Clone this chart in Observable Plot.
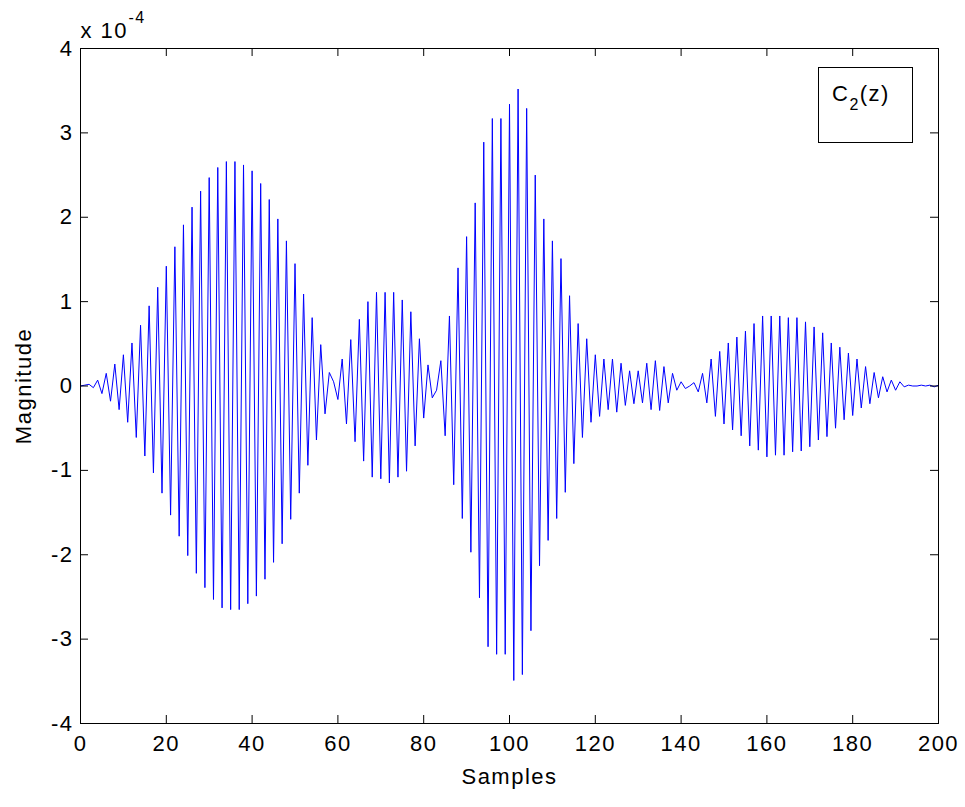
<!DOCTYPE html>
<html>
<head>
<meta charset="utf-8">
<script src="https://cdn.jsdelivr.net/npm/d3@7"></script>
<script src="https://cdn.jsdelivr.net/npm/@observablehq/plot@0.6"></script>
<style>
  html, body { margin: 0; padding: 0; background: #fff; }
  #chart { width: 965px; height: 807px; }
</style>
</head>
<body>
<div id="chart"></div>
<script>
// Magnitude values, in units of 1e-4, one per sample (0..200)
const magnitudeE4 = [
  0.00, 0.01, 0.02, -0.02, 0.07, -0.09, 0.15, -0.18, 0.26, -0.28,
  0.37, -0.43, 0.51, -0.61, 0.72, -0.83, 0.95, -1.03, 1.17, -1.27,
  1.42, -1.53, 1.65, -1.78, 1.91, -2.01, 2.12, -2.22, 2.31, -2.39,
  2.47, -2.53, 2.59, -2.63, 2.66, -2.65, 2.66, -2.65, 2.62, -2.58,
  2.55, -2.49, 2.40, -2.29, 2.21, -2.09, 1.98, -1.87, 1.72, -1.58,
  1.45, -1.27, 1.09, -0.94, 0.81, -0.64, 0.49, -0.33, 0.16, 0.05,
  -0.16, 0.32, -0.45, 0.55, -0.66, 0.79, -0.89, 1.00, -1.08, 1.11,
  -1.10, 1.11, -1.15, 1.11, -1.08, 1.02, -1.01, 0.88, -0.71, 0.56,
  -0.38, 0.25, -0.14, -0.05, 0.30, -0.59, 0.83, -1.17, 1.40, -1.57,
  1.77, -1.97, 2.17, -2.51, 2.89, -3.09, 3.17, -3.18, 3.17, -3.18,
  3.34, -3.49, 3.52, -3.42, 3.29, -2.90, 2.50, -2.13, 1.98, -1.83,
  1.72, -1.57, 1.51, -1.26, 1.07, -0.92, 0.74, -0.61, 0.56, -0.43,
  0.37, -0.36, 0.32, -0.28, 0.32, -0.31, 0.27, -0.23, 0.18, -0.21,
  0.18, -0.20, 0.27, -0.28, 0.30, -0.29, 0.23, -0.20, 0.15, -0.05,
  0.05, -0.03, 0.00, 0.04, -0.07, 0.15, -0.20, 0.32, -0.36, 0.41,
  -0.45, 0.51, -0.52, 0.58, -0.59, 0.65, -0.71, 0.74, -0.76, 0.83,
  -0.84, 0.83, -0.82, 0.83, -0.82, 0.81, -0.78, 0.81, -0.77, 0.76,
  -0.72, 0.70, -0.64, 0.63, -0.60, 0.51, -0.50, 0.46, -0.40, 0.39,
  -0.35, 0.32, -0.26, 0.23, -0.21, 0.16, -0.14, 0.11, -0.07, 0.07,
  -0.05, 0.05, -0.01, 0.01, 0.00, 0.00, 0.01, 0.00, 0.01, -0.01,
  0.01
];
const sampleIndex = magnitudeE4.map((_, i) => i);
const xTicks = [0, 20, 40, 60, 80, 100, 120, 140, 160, 180, 200];
const yTicks = [-4, -3, -2, -1, 0, 1, 2, 3, 4];
const xLabel = "Samples";
const yLabel = "Magnitude";
const exponentBase = "x 10";
const exponentPower = "-4";
const legendLabel = "C";
const legendSub = "2";
const legendTail = "(z)";

const data = sampleIndex.map((n, i) => ({n, v: magnitudeE4[i]}));

const W = 965, H = 807;
const mL = 80, mR = 27, mT = 48, mB = 84;
const innerW = W - mL - mR, innerH = H - mT - mB;
const tick = 8;
const fs = 22;
const font = "'Liberation Sans', Arial, Helvetica, sans-serif";

const plot = Plot.plot({
  width: W, height: H,
  marginLeft: mL, marginRight: mR, marginTop: mT, marginBottom: mB,
  style: {fontFamily: font, fontSize: fs + "px", letterSpacing: "1.5px", color: "black", background: "white", overflow: "visible"},
  x: {domain: [0, 200]},
  y: {domain: [-4, 4]},
  marks: [
    Plot.line(data, {x: "n", y: "v", stroke: "#0000ff", strokeWidth: 1}),
    Plot.ruleX(xTicks, {x: d => d, insetTop: innerH - tick, stroke: "black", strokeWidth: 1}),
    Plot.ruleX(xTicks, {x: d => d, insetBottom: innerH - tick, stroke: "black", strokeWidth: 1}),
    Plot.ruleY(yTicks, {y: d => d, insetRight: innerW - tick, stroke: "black", strokeWidth: 1}),
    Plot.ruleY(yTicks, {y: d => d, insetLeft: innerW - tick, stroke: "black", strokeWidth: 1}),
    Plot.frame({stroke: "black", strokeWidth: 1}),
    Plot.axisX(xTicks, {anchor: "bottom", tickSize: 0, tickPadding: 12, label: null, fontSize: fs, tickFormat: d => String(d)}),
    Plot.axisY(yTicks, {anchor: "left", tickSize: 0, tickPadding: 7, label: null, fontSize: fs, tickFormat: d => String(d)}),
    Plot.text([xLabel], {frameAnchor: "bottom", dy: 53, textAnchor: "middle", lineAnchor: "middle", fontSize: fs}),
    Plot.text([yLabel], {frameAnchor: "left", dx: -57, rotate: -90, textAnchor: "middle", lineAnchor: "middle", fontSize: fs}),
    Plot.text([exponentBase], {frameAnchor: "top-left", dx: 0, dy: -11, textAnchor: "start", lineAnchor: "bottom", fontSize: fs}),
    Plot.text([exponentPower], {frameAnchor: "top-left", dx: 48, dy: -26, textAnchor: "start", lineAnchor: "bottom", fontSize: 16})
  ]
});

// Legend box (top right inside the axes)
const svg = d3.select(plot);
const lg = svg.append("g").attr("font-family", font);
lg.append("rect")
  .attr("x", 818.5).attr("y", 67.5).attr("width", 94).attr("height", 75)
  .attr("fill", "white").attr("stroke", "black").attr("stroke-width", 1);
const t = lg.append("text").attr("x", 832).attr("y", 101)
  .attr("font-size", fs).attr("fill", "black").attr("text-anchor", "start");
t.append("tspan").text(legendLabel);
t.append("tspan").attr("font-size", 16).attr("dy", 9).text(legendSub);
t.append("tspan").attr("dy", -9).text(legendTail);

document.getElementById("chart").appendChild(plot);
</script>
</body>
</html>
